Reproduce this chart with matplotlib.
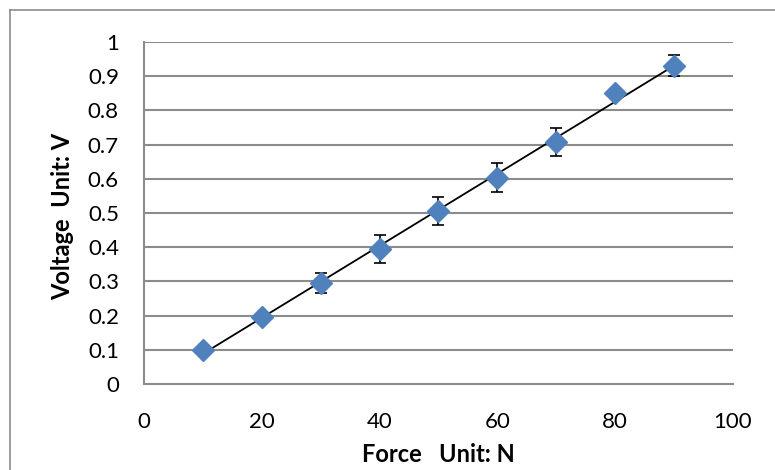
"""Voltage vs force calibration chart with error bars and linear trendline."""

import numpy as np
import matplotlib
matplotlib.use("Agg")
import matplotlib.pyplot as plt
from matplotlib.lines import Line2D

force = [10, 20, 30, 40, 50, 60, 70, 80, 90]
voltage = [0.100, 0.197, 0.295, 0.395, 0.506, 0.603, 0.708, 0.851, 0.931]
voltage_err = [0.005, 0.012, 0.030, 0.041, 0.040, 0.042, 0.042, 0.012, 0.030]

x_ticks = [0, 20, 40, 60, 80, 100]
y_ticks = [0, 0.1, 0.2, 0.3, 0.4, 0.5, 0.6, 0.7, 0.8, 0.9, 1]
y_tick_labels = ["0", "0.1", "0.2", "0.3", "0.4", "0.5", "0.6", "0.7", "0.8", "0.9", "1"]

plt.rcParams["font.family"] = ["Lato", "DejaVu Sans"]

fig = plt.figure(figsize=(7.75, 4.7), dpi=100)
ax = fig.add_axes([0.1858, 0.183, 0.76, 0.7276])

grid_color = "#8c8c8c"
for y in y_ticks[1:]:
    ax.axhline(y, color=grid_color, lw=1.5, zorder=1)

# linear trendline across the measured range
slope, intercept = np.polyfit(force, voltage, 1)
fx = np.array([force[0], force[-1]])
ax.plot(fx, slope * fx + intercept, color="black", lw=1.3, zorder=3)

ax.errorbar(force, voltage, yerr=voltage_err, fmt="none", ecolor="black",
            elinewidth=1.2, capsize=4.5, capthick=1.2, zorder=2)
ax.plot(force, voltage, linestyle="none", marker="D", markersize=11,
        color="#4f81bd", markeredgecolor="#4f81bd", zorder=4)

ax.set_xlim(0, 100)
ax.set_ylim(0, 1)
ax.set_xticks(x_ticks)
ax.set_yticks(y_ticks)
ax.set_yticklabels(y_tick_labels)
ax.tick_params(length=0, labelsize=16)
ax.tick_params(axis="y", pad=18)
ax.tick_params(axis="x", pad=20)

for side in ("top", "right"):
    ax.spines[side].set_visible(False)
for side in ("left", "bottom"):
    ax.spines[side].set_color(grid_color)
    ax.spines[side].set_linewidth(1.5)

fig.text(0.566, 0.032, "Force   Unit: N", ha="center", va="center",
         fontsize=17, fontweight="bold")
fig.text(0.081, 0.540, "Voltage  Unit: V", ha="center", va="center",
         rotation=90, fontsize=17, fontweight="bold")

# outer chart border (cropped at right/bottom)
fig.add_artist(Line2D([10 / 775, 10 / 775], [0, 1 - 10 / 470],
                      transform=fig.transFigure, color="#8c8c8c", lw=1.2))
fig.add_artist(Line2D([10 / 775, 1], [1 - 10 / 470, 1 - 10 / 470],
                      transform=fig.transFigure, color="#8c8c8c", lw=1.2))

fig.savefig("out.png", dpi=100)
